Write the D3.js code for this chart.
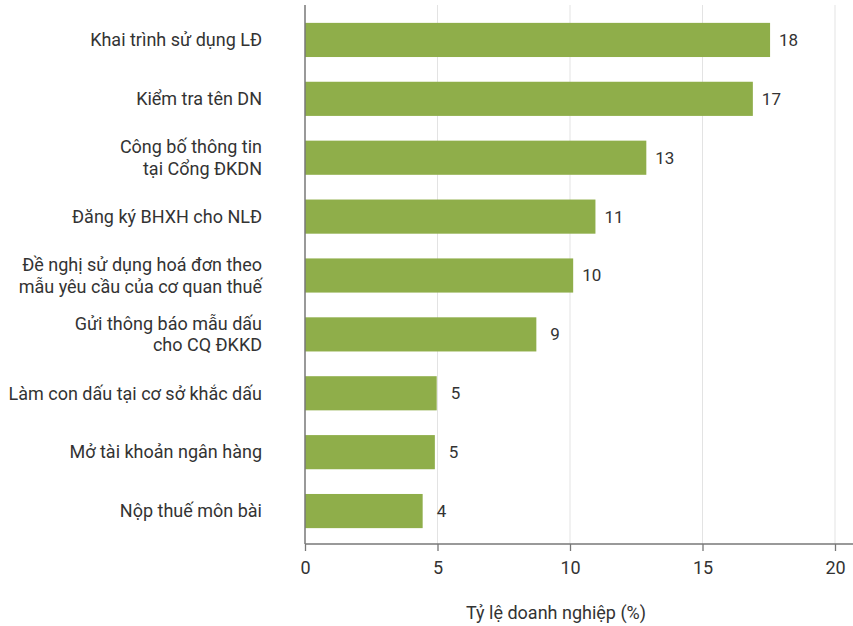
<!DOCTYPE html>
<html><head><meta charset="utf-8">
<script src="https://cdn.jsdelivr.net/npm/d3@7"></script>
<style>
body{margin:0;background:#fff;}
text{font-family:Roboto,"Noto Sans",sans-serif;fill:#333;}
</style></head>
<body><svg id="c" width="853" height="626"></svg>
<script>
const categories = [
  ["Khai trình sử dụng LĐ"],
  ["Kiểm tra tên DN"],
  ["Công bố thông tin","tại Cổng ĐKDN"],
  ["Đăng ký BHXH cho NLĐ"],
  ["Đề nghị sử dụng hoá đơn theo","mẫu yêu cầu của cơ quan thuế"],
  ["Gửi thông báo mẫu dấu","cho CQ ĐKKD"],
  ["Làm con dấu tại cơ sở khắc dấu"],
  ["Mở tài khoản ngân hàng"],
  ["Nộp thuế môn bài"]
];
const values = [17.55, 16.9, 12.88, 10.96, 10.12, 8.73, 4.97, 4.9, 4.44];
const labels = ["18","17","13","11","10","9","5","5","4"];
const xTicks = [0,5,10,15,20];
const xTitle = "Tỷ lệ doanh nghiệp (%)";

const svg = d3.select("#c");
const x = d3.scaleLinear().domain([0,20]).range([305,835]);
const y = d3.scaleBand().domain(d3.range(categories.length)).range([10.5,540.5]).paddingInner(0.42).paddingOuter(0.21);
const axisY = 544;

svg.append("g").selectAll("line").data(xTicks.filter(d=>d>0)).join("line")
  .attr("x1",d=>x(d)).attr("x2",d=>x(d)).attr("y1",5).attr("y2",axisY)
  .attr("stroke","#e3e3e3").attr("stroke-width",1);

svg.append("g").selectAll("rect").data(values).join("rect")
  .attr("x",x(0)).attr("y",(d,i)=>y(i)).attr("width",d=>x(d)-x(0)).attr("height",y.bandwidth())
  .attr("fill","#8fae4a");

svg.append("g").selectAll("text").data(values).join("text")
  .attr("x",(d,i)=>x(d)+9+(labels[i].length===1?5:0)).attr("y",(d,i)=>y(i)+y.bandwidth()/2)
  .attr("dy","0.35em").attr("font-size",17).text((d,i)=>labels[i]);

const cl = svg.append("g").selectAll("text").data(categories).join("text")
  .attr("text-anchor","end").attr("font-size",18);
cl.each(function(lines,i){
  const t=d3.select(this);
  const cy=y(i)+y.bandwidth()/2;
  const lh=21.5;
  lines.forEach((s,k)=>{
    t.append("tspan").attr("x",262).attr("y",cy+(k-(lines.length-1)/2)*lh).attr("dy","0.35em").text(s);
  });
});

const xa = svg.append("g").attr("transform",`translate(0,${axisY})`)
  .call(d3.axisBottom(x).tickValues(xTicks).tickSize(7).tickPadding(10));
xa.select(".domain").remove();
xa.selectAll(".tick line").attr("stroke","#777").attr("stroke-width",1.3);
xa.selectAll(".tick text").attr("font-size",18).attr("fill","#333").style("font-family","Roboto, sans-serif");
svg.append("line").attr("x1",x(0)).attr("x2",853).attr("y1",axisY).attr("y2",axisY).attr("stroke","#777").attr("stroke-width",1.5);
svg.append("line").attr("x1",x(0)).attr("x2",x(0)).attr("y1",5).attr("y2",axisY).attr("stroke","#777").attr("stroke-width",1.5);

svg.append("text").attr("x",556).attr("y",619).attr("text-anchor","middle").attr("font-size",18).text(xTitle);
</script></body></html>
